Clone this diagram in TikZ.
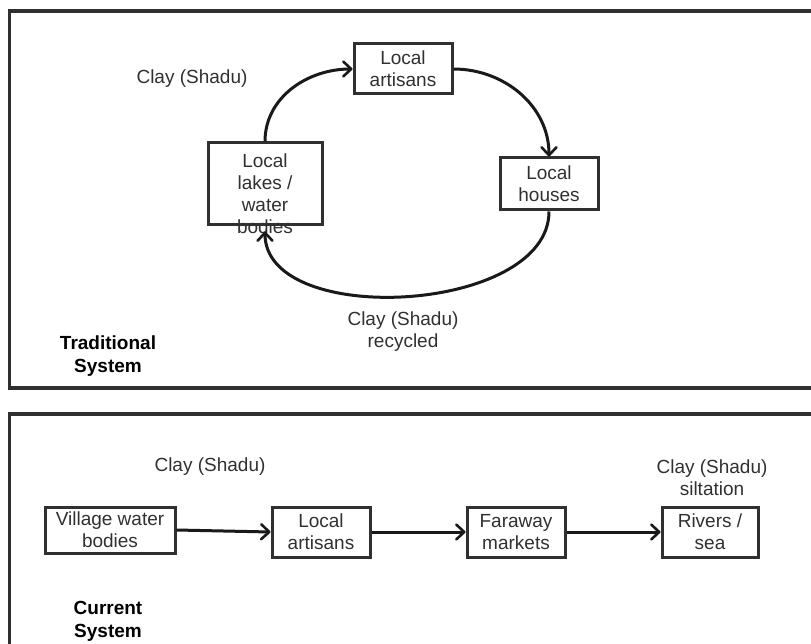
\documentclass[tikz,border=0pt]{standalone}
\usepackage{fontspec}
\setmainfont{Liberation Sans}
\usetikzlibrary{arrows.meta}
\definecolor{frame}{HTML}{303030}
\definecolor{txt}{HTML}{303030}
\begin{document}
\begin{tikzpicture}[x=1pt,y=-1pt,
  box/.style={draw=frame, line width=3pt, inner sep=0pt, align=center, text=txt,
              font=\fontsize{19}{22}\selectfont},
  lbl/.style={align=center, text=txt, inner sep=0pt, font=\fontsize{19}{22}\selectfont},
  ttl/.style={align=center, text=black, inner sep=0pt, font=\fontsize{19}{23}\selectfont\bfseries},
  flow/.style={draw=black!90, line width=3pt,
               -{Straight Barb[length=8pt,width=15pt,line width=2.6pt,round]}},
  panel/.style={draw=frame, line width=3.2pt}]
\useasboundingbox (0,0) rectangle (811,644);
% panels
\draw[panel] (815,11) -- (9.5,11) -- (9.5,388) -- (815,388);
\draw[panel] (815,414) -- (9.5,414) -- (9.5,650);

% ---------- Traditional system ----------
\node[box, minimum width=98pt, minimum height=50pt] (art) at (403,69) {Local\\artisans};
\node[box, minimum width=114pt, minimum height=82pt] (lakes) at (265,184) {};
\node[lbl] (lakestxt) at (265,194) {Local\\lakes /\\water\\bodies};
\node[box, minimum width=98pt, minimum height=52pt] (houses) at (549,184) {Local\\houses};

\node[lbl] (clay1) at (192,79) {Clay (Shadu)};
\node[lbl] (clay2) at (403,332) {Clay (Shadu)\\recycled};
\node[ttl] (trad) at (108,356) {Traditional\\System};

\draw[flow] (lakes.north) to[out=90,in=180] (art.west);
\draw[flow] (art.east) to[out=0,in=90] (houses.north);
\draw[flow, shorten >=5pt] (houses.south) to[out=-90,in=-90,looseness=0.92] (lakes.south);

% ---------- Current system ----------
\node[box, minimum width=130pt, minimum height=46pt] (vill) at (110,530) {Village water\\bodies};
\node[box, minimum width=98pt, minimum height=50pt] (art2) at (321,532) {Local\\artisans};
\node[box, minimum width=98pt, minimum height=50pt] (far) at (516,532) {Faraway\\markets};
\node[box, minimum width=96pt, minimum height=50pt] (riv) at (710,532) {Rivers /\\sea};

\node[lbl] (clay3) at (210,467) {Clay (Shadu)};
\node[lbl] (clay4) at (712,478) {Clay (Shadu)\\siltation};
\node[ttl] (curr) at (108,621) {Current\\System};

\draw[flow] (vill.east) -- (art2.west);
\draw[flow] (art2.east) -- (far.west);
\draw[flow] (far.east) -- (riv.west);
\end{tikzpicture}
\end{document}
